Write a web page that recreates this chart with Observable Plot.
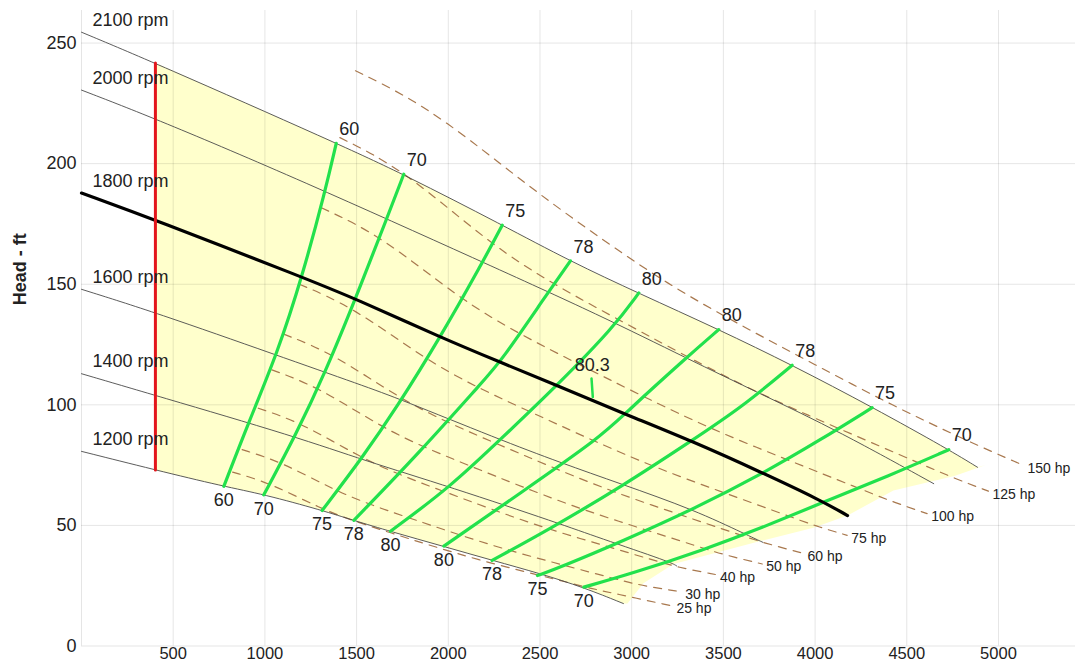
<!DOCTYPE html>
<html>
<head>
<meta charset="utf-8">
<script src="https://cdn.jsdelivr.net/npm/d3@7"></script>
<script src="https://cdn.jsdelivr.net/npm/@observablehq/plot@0.6"></script>
<style>
  html, body { margin: 0; padding: 0; background: #fff; }
  #chart { width: 1079px; height: 663px; overflow: hidden; }
</style>
</head>
<body>
<div id="chart"></div>
<script>
// ---- axis ticks ----
const xTicks = [500, 1000, 1500, 2000, 2500, 3000, 3500, 4000, 4500, 5000];
const yTicks = [0, 50, 100, 150, 200, 250];
const yLabel = "Head - ft";

// ---- pump speed curves [flow gpm, head ft] ----
const rpm2100 = [[0,254.5],[403,241.7],[1390,208.5],[1756,195.6],[2296,174.5],[2666,159.5],[3037,146.3],[3473,131.3],[3877,116.4],[4313,99],[4727,81.5],[4886,74.1]];
const rpm2000 = [[0,230.5],[403,218.7],[1194,193.2],[2193,159],[2830,137],[3302,119.2],[3702,104.6],[4138,88.7],[4647,67.3]];
const rpm1800 = [[0,187.8],[403,176.6],[1205,152.9],[1500,143.8],[1957,128],[2285,117.6],[2595,107.9],[2786,101.9],[2966,96.1],[3331,84.9],[3719,71.6],[4030,60.4],[4177,54.1]];
const rpm1600 = [[0,147.9],[403,138.3],[1067,120.5],[1530,108.1],[1739,102.3],[2266,86],[2612,76],[2939,67.3],[3339,56.5],[3630,46],[3715,43]];
const rpm1400 = [[0,112.9],[403,103.9],[1176,86.6],[1539,77],[2012,65.9],[2613,50.6],[2813,45.1],[3212,34.8],[3245,33.2]];
const rpm1200 = [[0,80.7],[403,73],[774,66.2],[993,62.9],[1314,56.2],[1483,52.1],[1685,47.5],[1974,41.3],[2241,35.5],[2503,30],[2737,24.3],[2955,17.6]];
const rpmNames = ["2100 rpm", "2000 rpm", "1800 rpm", "1600 rpm", "1400 rpm", "1200 rpm"];
const rpmCurves = [rpm2100, rpm2000, rpm1800, rpm1600, rpm1400, rpm1200];
const designSpeed = "1800 rpm";

// ---- operating region outline (right / lower-right edge) ----
const regionRightEdge = [[4930,75],[4760,70.5],[4427,64.5],[4177,54.1],[3991,49],[3702,43.5],[3228,34],[3064,26],[2977,17.6]];

// ---- minimum-flow limit (red) ----
const minFlow = 403;
const minFlowHeads = [73, 241.7];

// ---- efficiency iso-lines (%) ----
const eff60L = [[776,66.2],[912,92.9],[1067,121.2],[1203,153],[1330,189],[1389,208.4]];
const eff70L = [[994,62.7],[1167,87.3],[1330,113.6],[1494,144],[1667,177.7],[1757,195.6]];
const eff75L = [[1312,56.2],[1530,78],[1720,99],[1957,128.1],[2185,158.8],[2294,174.5]];
const eff78L = [[1485,52.1],[1840,80],[2194,110.2],[2285,117.8],[2539,146],[2666,159.7]];
const eff80L = [[1685,47.6],[2012,66],[2300,86.8],[2594,108.1],[2903,132.3],[3039,146.4]];
const eff80R = [[1976,41.4],[2400,63.8],[2830,86.6],[2966,96.6],[3302,119.8],[3475,131.2]];
const eff78R = [[2239,35.5],[2539,47.9],[2950,66.3],[3330,85.3],[3600,99],[3875,116.4]];
const eff75R = [[2486,29.2],[2612,32.7],[2950,43.5],[3330,56.5],[3720,71.7],[4030,85.5],[4311,98.8]];
const eff70R = [[2739,24.4],[3000,30],[3400,40.1],[3700,48.7],[4047,59.7],[4400,70.5],[4729,81.4]];
const effValues = [60, 70, 75, 78, 80, 80, 78, 75, 70];
const effCurves = [eff60L, eff70L, eff75L, eff78L, eff80L, eff80R, eff78R, eff75R, eff70R];
const bepLabel = "80.3";
const bepTick = [[2781,110.9],[2788,103.2]];
const bepLabelAt = [2785, 116.4];

// ---- brake horsepower lines ----
const hp150 = [[1494,238.5],[1750,229],[1994,217],[2250,202],[2503,187],[2793,171],[3195,150],[3593,133],[3991,117],[4427,99.5],[4831,85],[5136,74.9]];
const hp125 = [[1409,210.8],[1752,197.8],[2231,166.4],[2573,150.0],[2914,135.9],[3109,127.9],[3307,119.8],[3693,104.6],[4149,89.5],[4566,75.9],[4747,69.9],[4945,64.2]];
const hp100 = [[1308,181.7],[1626,170.5],[2071,143.4],[2389,129.3],[2705,117.1],[2886,110.2],[3070,103.2],[3428,90.1],[3852,77.1],[4239,65.4],[4407,60.2],[4611,54.9]];
const hp75  = [[1188,150.0],[1477,140.7],[1882,118.4],[2171,106.7],[2458,96.7],[2622,91.0],[2789,85.2],[3115,74.4],[3500,63.6],[3852,54.0],[4004,49.7],[4175,45.9]];
const hp60  = [[1103,129.3],[1371,121.3],[1747,102.0],[2015,92.0],[2281,83.3],[2434,78.4],[2589,73.4],[2891,64.1],[3249,54.8],[3575,46.5],[3717,42.8],[3937,38.4]];
const hp50  = [[1038,114.5],[1291,107.4],[1644,90.3],[1896,81.5],[2147,73.8],[2291,69.4],[2437,65.0],[2721,56.8],[3057,48.6],[3365,41.2],[3498,37.9],[3712,34.0]];
const hp40  = [[964,98.6],[1198,92.6],[1526,77.9],[1760,70.2],[1993,63.6],[2126,59.8],[2262,56.0],[2526,48.9],[2838,41.9],[3123,35.5],[3247,32.7],[3460,29.6]];
const hp30  = [[876,81.4],[1088,76.4],[1386,64.3],[1599,57.9],[1811,52.5],[1932,49.4],[2055,46.2],[2295,40.4],[2579,34.5],[2838,29.3],[2950,27.0],[3079,24.7],[3270,22.5]];
const hp25  = [[824,72.1],[1024,67.7],[1305,56.9],[1505,51.3],[1704,46.5],[1818,43.7],[1934,41.0],[2160,35.8],[2427,30.6],[2671,26.0],[2776,23.9],[2898,21.9],[3222,16.6]];
const hpNames = ["150 hp", "125 hp", "100 hp", "75 hp", "60 hp", "50 hp", "40 hp", "30 hp", "25 hp"];
const hpCurves = [hp150, hp125, hp100, hp75, hp60, hp50, hp40, hp30, hp25];

// ---- build tables ----
const toRows = (names, curves) => curves.flatMap((pts, i) => pts.map(([q, h]) => ({name: String(names[i]) + "#" + i, q, h})));
const rpmRows = toRows(rpmNames, rpmCurves);
const thinRows = rpmRows.filter(d => !d.name.startsWith(designSpeed));
const boldRows = rpmRows.filter(d => d.name.startsWith(designSpeed));
const effRows = toRows(effValues, effCurves);
const hpRows = toRows(hpNames, hpCurves);

const top2100 = rpm2100.filter(([q]) => q >= minFlow);
const bottom1200 = rpm1200.filter(([q]) => q >= minFlow).slice().reverse();
const region = [...top2100, ...regionRightEdge, ...bottom1200].map(([q, h]) => ({q, h}));

const rpmLabelRows = rpmCurves.map((pts, i) => ({t: rpmNames[i], q: pts[0][0], h: pts[0][1]}));
const effTopRows = effCurves.map((pts, i) => ({t: String(effValues[i]), q: pts[pts.length-1][0], h: pts[pts.length-1][1]}));
const effBotRows = effCurves.map((pts, i) => ({t: String(effValues[i]), q: pts[0][0], h: pts[0][1]}));
const hpLabelRows = hpCurves.map((pts, i) => ({t: hpNames[i], q: pts[pts.length-1][0], h: pts[pts.length-1][1]}));
const redRows = minFlowHeads.map(h => ({q: minFlow, h}));
const bepRows = bepTick.map(([q, h]) => ({q, h}));

const chart = Plot.plot({
  width: 1079,
  height: 663,
  marginLeft: 81,
  marginRight: 4,
  marginTop: 10,
  marginBottom: 17.5,
  style: {fontFamily: "'Liberation Sans', Arial, sans-serif", fontSize: "18px", color: "#222", background: "#fff"},
  x: {domain: [0, 5420]},
  y: {domain: [0, 263.5]},
  marks: [
    Plot.line(region, {x: "q", y: "h", fill: "#ffffcc", stroke: "none", curve: "linear"}),
    Plot.gridX(xTicks, {stroke: "#000", strokeOpacity: 0.1, strokeWidth: 1}),
    Plot.gridY(yTicks, {stroke: "#000", strokeOpacity: 0.1, strokeWidth: 1}),
    Plot.ruleX([0], {stroke: "#000", strokeOpacity: 0.1}),
    Plot.axisX(xTicks, {tickSize: 0, tickPadding: 1, tickFormat: d => String(d), fontSize: 16.5, label: null}),
    Plot.axisY(yTicks, {tickSize: 0, tickPadding: 5, tickFormat: d => String(d), fontSize: 18, label: null}),
    Plot.text([yLabel], {frameAnchor: "left", rotate: -90, dx: -61, dy: -23, fontWeight: "bold", fontSize: 18}),
    Plot.line(hpRows, {x: "q", y: "h", z: "name", stroke: "#a8784e", strokeWidth: 1.2, strokeDasharray: "8,7", curve: "basis"}),
    Plot.line(thinRows, {x: "q", y: "h", z: "name", stroke: "#4a4a4a", strokeWidth: 0.9, curve: "basis"}),
    Plot.line(effRows, {x: "q", y: "h", z: "name", stroke: "#22e14c", strokeWidth: 3.2, curve: "basis"}),
    Plot.line(bepRows, {x: "q", y: "h", stroke: "#22e14c", strokeWidth: 2.5}),
    Plot.line(boldRows, {x: "q", y: "h", stroke: "#000", strokeWidth: 3.2, curve: "basis"}),
    Plot.line(redRows, {x: "q", y: "h", stroke: "#e3161b", strokeWidth: 3}),
    Plot.text(rpmLabelRows, {x: "q", y: "h", text: "t", textAnchor: "start", dx: 11, dy: -12, fontSize: 18, fill: "#222"}),
    Plot.text(effTopRows, {x: "q", y: "h", text: "t", dx: 13, dy: -14, fontSize: 18, fill: "#222"}),
    Plot.text(effBotRows, {x: "q", y: "h", text: "t", dx: 0, dy: 14, fontSize: 18, fill: "#222"}),
    Plot.text([{t: bepLabel, q: bepLabelAt[0], h: bepLabelAt[1]}], {x: "q", y: "h", text: "t", fontSize: 18, fill: "#222"}),
    Plot.text(hpLabelRows, {x: "q", y: "h", text: "t", textAnchor: "start", dx: 4, dy: 3, fontSize: 14, fill: "#222", fontFamily: "'Liberation Sans Narrow', 'Liberation Sans', Arial, sans-serif"})
  ]
});
document.getElementById("chart").appendChild(chart);
</script>
</body>
</html>
